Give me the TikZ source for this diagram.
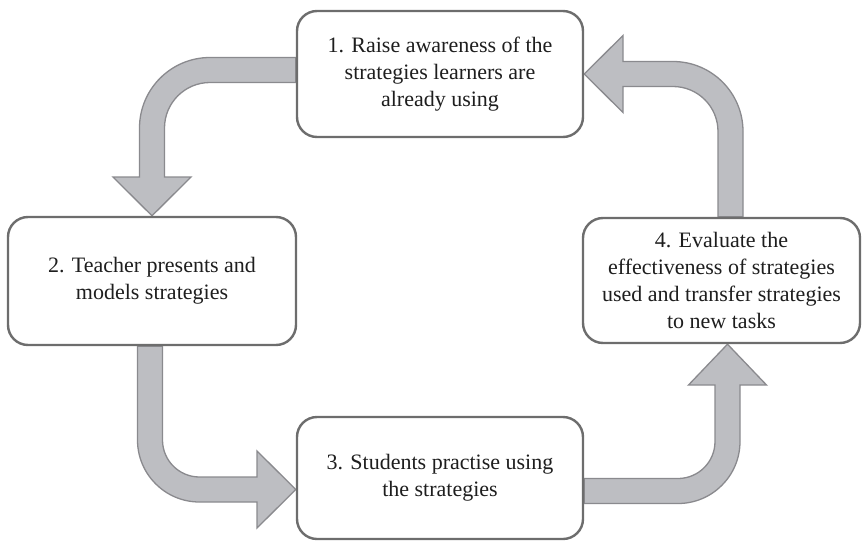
\documentclass[tikz,border=0pt]{standalone}
\usepackage{fontspec}
\setmainfont{Liberation Serif}
\newfontfamily\stagefont{Liberation Serif}
\usetikzlibrary{positioning,backgrounds}
\definecolor{arrowfill}{HTML}{BDBEC2}
\definecolor{arrowline}{HTML}{8A8A8E}
\definecolor{boxline}{HTML}{6D6D6D}
\definecolor{textgrey}{HTML}{1E1E1E}

\begin{document}
\begin{tikzpicture}[x=1pt,y=-1pt,
  stagebox/.style={draw=boxline, line width=2.4pt, fill=white, rounded corners=20pt,
    align=center, text=textgrey, inner sep=0pt,
    font=\stagefont\fontsize{22}{27}\selectfont},
  bigarrow/.style={fill=arrowfill, draw=arrowline, line width=1.3pt, line join=miter}]

\useasboundingbox (0,0) rectangle (865,541);

% the four stages
\node[stagebox, minimum width=286pt, minimum height=126pt] (raise) at (440,74)
  {1. Raise awareness of the\\strategies learners are\\already using};
\node[stagebox, minimum width=288pt, minimum height=128pt] (present) at (152,281)
  {2. Teacher presents and\\models strategies};
\node[stagebox, minimum width=286pt, minimum height=122pt] (practise) at (440,478)
  {3. Students practise using\\the strategies};
\node[stagebox, minimum width=277pt, minimum height=125pt] (evaluate) at (721.5,280.5)
  {4. Evaluate the\\effectiveness of strategies\\used and transfer strategies\\to new tasks};

% bent block arrows behind the boxes
\begin{pgfonlayer}{background}
\draw[bigarrow] ([yshift=16.5pt]raise.west) [rounded corners=70.5pt] -- (139.5,57.5)
  [sharp corners] -- (139.5,177) -- (113,177) -- (present.north) -- (191,177) -- (164.5,177)
  [rounded corners=45.5pt] -- (164.5,82.5) [sharp corners] -- ([yshift=-8.5pt]raise.west) -- cycle;
\draw[bigarrow] ([xshift=-14.5pt]present.south) [rounded corners=62pt] -- (137.5,502)
  [sharp corners] -- (257,502) -- (257,528) -- ([yshift=-11.5pt]practise.west) -- (257,451) -- (257,477)
  [rounded corners=37pt] -- (162.5,477) [sharp corners] -- ([xshift=10.5pt]present.south) -- cycle;
\draw[bigarrow] ([yshift=-0.5pt]practise.east) [rounded corners=37pt] -- (715,478.5)
  [sharp corners] -- (715,385) -- (688.5,385) -- ([xshift=6pt]evaluate.south) -- (766.5,385) -- (740,385)
  [rounded corners=62pt] -- (740,503.5) [sharp corners] -- ([yshift=-25.5pt]practise.east) -- cycle;
\draw[bigarrow] ([xshift=-3.5pt]evaluate.north) [rounded corners=45pt] -- (718,86.5)
  [sharp corners] -- (623,86.5) -- (623,112.5) -- (raise.east) -- (623,35.5) -- (623,61.5)
  [rounded corners=70pt] -- (743,61.5) [sharp corners] -- ([xshift=21.5pt]evaluate.north) -- cycle;
\end{pgfonlayer}
\end{tikzpicture}
\end{document}
